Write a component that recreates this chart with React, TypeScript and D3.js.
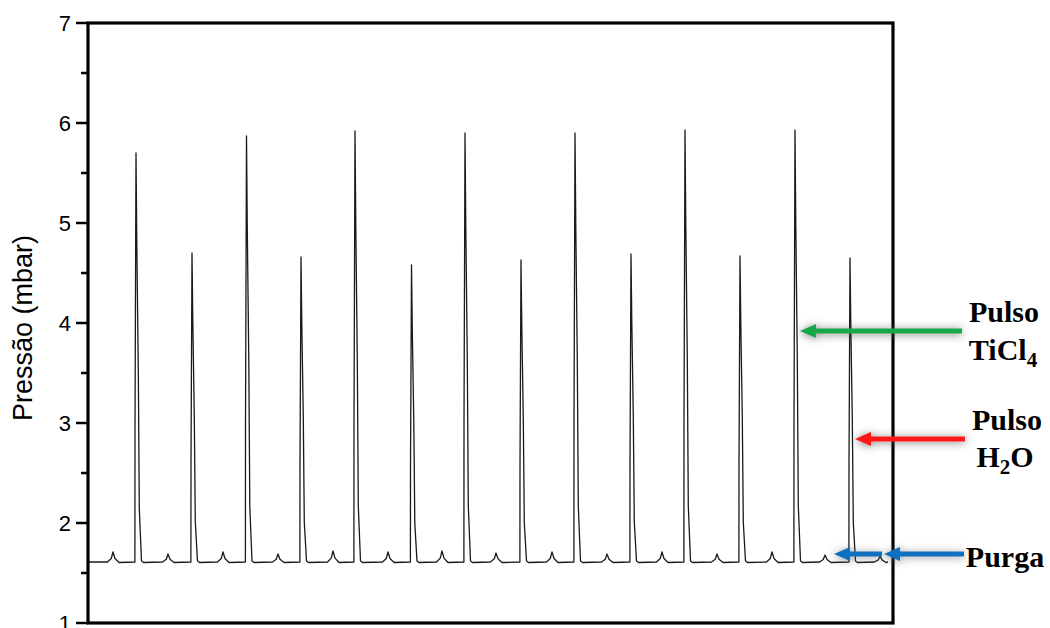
import React from 'react';
import * as d3 from 'd3';

// pressure trace of the ALD cycles (time in s, pressure in mbar)
const baseline = 1.61;
const pulseTime = [9.6, 20.8, 31.7, 42.6, 53.4, 64.7, 75.4, 86.6, 97.4, 108.6, 119.4, 130.4, 141.4, 152.4];
const pulsePeak = [5.70, 4.70, 5.87, 4.66, 5.92, 4.58, 5.90, 4.63, 5.90, 4.69, 5.93, 4.67, 5.93, 4.65];
const purgeTime = [5, 16, 27, 38, 49, 60, 70.8, 81.6, 92.8, 103.8, 114.8, 125.8, 136.8, 147.4, 158.4];
const purgePeak = [1.71, 1.69, 1.71, 1.69, 1.72, 1.71, 1.72, 1.70, 1.71, 1.69, 1.71, 1.69, 1.71, 1.68, 1.67];
const yTicks = [1, 2, 3, 4, 5, 6, 7];
const yMinor = [1.5, 2.5, 3.5, 4.5, 5.5, 6.5];
const timeRange = [0, 161];
const traceEnd = 160;

const W = 1050, H = 628;
const margin = {left: 88, right: 157, top: 23, bottom: 5};

function buildTrace() {
  const b = baseline;
  let pts: [number, number][] = [[0, b]];
  let events: {t: number, kind: string, h: number}[] = [];
  pulseTime.forEach((t, i) => events.push({t, kind: 'pulse', h: pulsePeak[i]}));
  purgeTime.forEach((t, i) => events.push({t, kind: 'purge', h: purgePeak[i]}));
  events.sort((a, c) => a.t - c.t);
  events.forEach(e => {
    let d = e.h - b;
    if (e.kind == 'pulse') {
      pts.push([e.t - 0.22, b]);
      pts.push([e.t - 0.2, b + 0.32 * d]);
      pts.push([e.t, e.h]);
      pts.push([e.t + 0.16, b + 0.78 * d]);
      pts.push([e.t + 0.46, b + 0.47 * d]);
      pts.push([e.t + 0.66, b + 0.13 * d]);
      pts.push([e.t + 1.1, b + 0.01]);
      pts.push([e.t + 1.5, b - 0.005]);
    } else {
      pts.push([e.t - 1.1, b]);
      pts.push([e.t - 0.35, b + 0.35 * d]);
      pts.push([e.t, e.h]);
      pts.push([e.t + 0.4, b + 0.35 * d]);
      pts.push([e.t + 1.2, b - 0.005]);
    }
  });
  pts.push([traceEnd, b]);
  return pts;
}

function Arrow({x1, x2, y, color, shadow}: {x1: number, x2: number, y: number, color: string, shadow: string}) {
  // arrow pointing left, head at x2
  let headLen = 16, headW = 7;
  return (
    <g filter={`url(#${shadow})`}>
      <line x1={x1} x2={x2 + headLen - 2} y1={y} y2={y} stroke={color} strokeWidth={5} />
      <path d={`M${x2},${y} L${x2 + headLen},${y - headW} L${x2 + headLen},${y + headW} Z`} fill={color} />
    </g>
  );
}

export default function App() {
  const x = d3.scaleLinear().domain(timeRange).range([margin.left, W - margin.right]);
  const y = d3.scaleLinear().domain([1, 7]).range([H - margin.bottom, margin.top]);
  const trace = buildTrace();
  const line = d3.line<[number, number]>().x(d => x(d[0])).y(d => y(d[1]));

  const x0 = x.range()[0], x1 = x.range()[1];
  const yTop = y(7), yBot = y(1);
  const serif = '"Liberation Serif", "Times New Roman", serif';
  const sans = '"Liberation Sans", Arial, sans-serif';

  return (
    <svg width={W} height={H} style={{position: 'absolute', left: 0, top: 0, background: '#fff'}}>
      <defs>
        <filter id="shadowDark" x="-20%" y="-300%" width="140%" height="700%">
          <feDropShadow dx="0" dy="1" stdDeviation="4" floodColor="#555" floodOpacity="0.8" />
        </filter>
        <filter id="shadowLight" x="-20%" y="-300%" width="140%" height="700%">
          <feDropShadow dx="0" dy="1" stdDeviation="4" floodColor="#666" floodOpacity="0.7" />
        </filter>
      </defs>

      <path d={line(trace) || ''} fill="none" stroke="#1a1a1a" strokeWidth={1.3} strokeLinejoin="round" />

      {/* frame */}
      <rect x={x0} y={yTop} width={x1 - x0} height={yBot - yTop} fill="none" stroke="#000" strokeWidth={3.2} />

      {/* y axis ticks */}
      {yTicks.map(t => (
        <g key={t}>
          <line x1={x0 - 12} x2={x0} y1={y(t)} y2={y(t)} stroke="#000" strokeWidth={2.5} />
          <text x={x0 - 17} y={y(t)} dy="0.36em" textAnchor="end" fontFamily={sans} fontSize={22}>{t}</text>
        </g>
      ))}
      {yMinor.map(t => (
        <line key={t} x1={x0 - 7} x2={x0} y1={y(t)} y2={y(t)} stroke="#000" strokeWidth={2.5} />
      ))}
      <text transform={`translate(32,${(yTop + yBot) / 2 + 5}) rotate(-90)`} textAnchor="middle"
        fontFamily={sans} fontSize={27}>Pressão (mbar)</text>

      {/* annotations */}
      <Arrow x1={962} x2={800} y={331} color="#16a84c" shadow="shadowDark" />
      <Arrow x1={965} x2={855} y={439} color="#ff1414" shadow="shadowDark" />
      <Arrow x1={964} x2={884} y={554} color="#0d6fc0" shadow="shadowLight" />
      <Arrow x1={882} x2={834} y={554} color="#0d6fc0" shadow="shadowLight" />

      <g fontFamily={serif} fontWeight="bold" fontSize={30} textAnchor="middle">
        <text x={1004} y={322}>Pulso</text>
        <text x={1003} y={360}>TiCl<tspan fontSize={21} dy={7}>4</tspan></text>
        <text x={1007} y={430}>Pulso</text>
        <text x={1005} y={467}>H<tspan fontSize={21} dy={7}>2</tspan><tspan dy={-7}>O</tspan></text>
        <text x={1005} y={567}>Purga</text>
      </g>
    </svg>
  );
}
